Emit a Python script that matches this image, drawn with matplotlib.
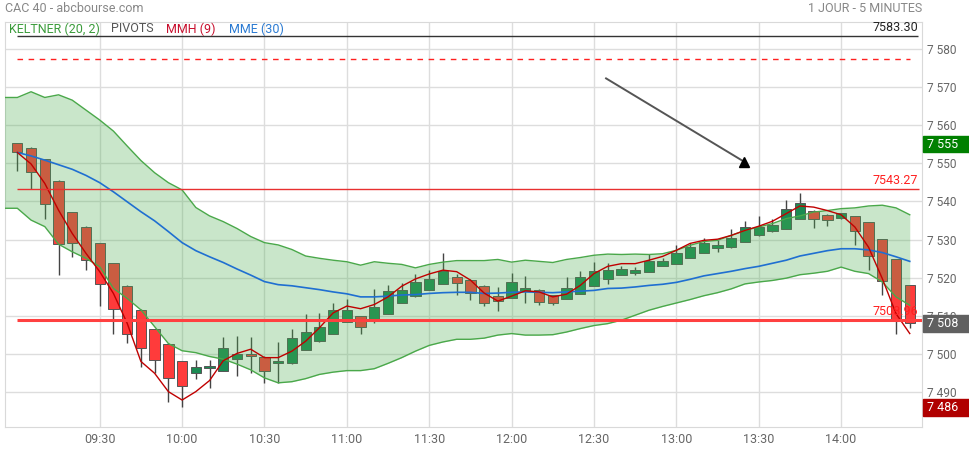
import matplotlib
matplotlib.use("Agg")
from matplotlib import pyplot as plt
from matplotlib.patches import Rectangle
import matplotlib.transforms as mtransforms

plt.rcParams['font.family'] = ['Roboto', 'DejaVu Sans']

# 5-minute candles, 09:00 -> 14:25
opens = [7555.2, 7553.9, 7551.0, 7545.3, 7537.1, 7533.3, 7529.0, 7523.8, 7517.8, 7511.5,
         7506.5, 7502.6, 7498.1, 7495.0, 7496.4, 7495.7, 7498.7, 7500.0, 7499.2, 7497.7,
         7497.7, 7501.2, 7503.5, 7505.3, 7508.5, 7510.0, 7508.7, 7510.5, 7513.5, 7515.2,
         7516.8, 7518.4, 7520.3, 7519.5, 7517.9, 7515.3, 7514.7, 7516.6, 7516.9, 7515.5,
         7514.5, 7515.8, 7517.9, 7519.7, 7520.8, 7521.3, 7521.5, 7523.1, 7523.6, 7525.3,
         7526.6, 7527.8, 7528.0, 7529.4, 7531.1, 7532.2, 7532.8, 7535.4, 7537.6, 7536.5,
         7535.6, 7536.2, 7534.5, 7530.1, 7524.8, 7518.0]
highs = [7555.4, 7554.2, 7551.2, 7545.5, 7537.3, 7533.5, 7529.2, 7524.0, 7518.0, 7511.7,
         7506.7, 7502.8, 7498.3, 7498.5, 7498.5, 7504.5, 7504.8, 7504.5, 7499.4, 7503.3,
         7506.6, 7510.4, 7510.7, 7513.5, 7514.5, 7510.1, 7517.1, 7518.0, 7518.6, 7521.1,
         7522.0, 7526.4, 7520.9, 7519.6, 7518.0, 7517.6, 7521.2, 7520.4, 7517.0, 7515.6,
         7520.1, 7521.7, 7524.1, 7523.8, 7523.0, 7522.7, 7526.3, 7525.3, 7528.5, 7529.2,
         7530.4, 7529.8, 7532.7, 7534.9, 7536.1, 7535.5, 7540.3, 7542.1, 7537.7, 7536.6,
         7536.9, 7536.3, 7534.6, 7530.2, 7524.9, 7518.1]
lows = [7548.0, 7543.2, 7535.5, 7520.7, 7525.5, 7522.0, 7512.7, 7505.2, 7502.8, 7496.7,
        7495.0, 7487.4, 7486.1, 7493.6, 7491.1, 7495.7, 7494.4, 7495.2, 7492.4, 7492.5,
        7497.5, 7501.0, 7503.3, 7505.2, 7508.4, 7505.3, 7508.2, 7510.4, 7513.4, 7515.1,
        7516.7, 7518.3, 7515.5, 7514.2, 7512.6, 7511.3, 7514.6, 7513.4, 7512.9, 7512.9,
        7514.4, 7515.7, 7517.8, 7518.5, 7520.7, 7520.8, 7521.4, 7523.0, 7523.5, 7525.2,
        7526.5, 7526.7, 7527.9, 7529.3, 7531.0, 7532.0, 7532.7, 7535.3, 7533.0, 7533.5,
        7535.5, 7528.5, 7522.0, 7515.5, 7505.4, 7506.8]
closes = [7552.8, 7547.8, 7539.4, 7528.9, 7529.2, 7524.7, 7518.3, 7511.7, 7505.4, 7501.5,
          7498.6, 7493.7, 7491.6, 7496.6, 7496.8, 7501.5, 7500.0, 7499.6, 7495.7, 7498.1,
          7504.3, 7505.9, 7507.2, 7511.6, 7511.6, 7507.2, 7512.4, 7516.6, 7516.9, 7518.8,
          7519.7, 7521.8, 7518.6, 7516.1, 7513.5, 7513.9, 7518.8, 7517.2, 7513.7, 7513.4,
          7517.3, 7520.1, 7521.7, 7522.0, 7522.2, 7522.0, 7524.5, 7524.5, 7526.6, 7528.1,
          7529.2, 7528.5, 7530.5, 7533.4, 7533.4, 7533.7, 7537.9, 7539.7, 7535.4, 7535.1,
          7536.9, 7532.2, 7525.7, 7519.1, 7508.8, 7508.2]

# MMH (9) - Hull moving average
mmh = [7552.8, 7549.8, 7544.7, 7537.7, 7531.6, 7526.4, 7521.6, 7515.9, 7508.1, 7498.1,
       7495.0, 7490.2, 7488.0, 7490.2, 7493.1, 7498.3, 7500.2, 7501.3, 7499.1, 7499.1,
       7500.8, 7503.4, 7506.9, 7510.8, 7512.6, 7511.9, 7513.0, 7515.0, 7517.8, 7519.7,
       7521.0, 7522.0, 7521.6, 7519.4, 7516.0, 7513.9, 7515.2, 7516.6, 7516.3, 7515.0,
       7515.7, 7518.0, 7521.1, 7523.0, 7523.7, 7523.7, 7524.6, 7525.6, 7527.2, 7529.0,
       7529.8, 7530.1, 7531.1, 7532.4, 7533.5, 7534.8, 7536.8, 7538.8, 7538.5, 7537.6,
       7536.5, 7533.3, 7528.0, 7519.8, 7510.6, 7505.4]

# MME (30) - exponential moving average
mme = [7552.8, 7551.9, 7550.8, 7549.6, 7548.4, 7546.8, 7544.9, 7542.5, 7539.9, 7537.3,
       7534.9, 7532.1, 7529.2, 7527.1, 7525.5, 7524.0, 7522.3, 7520.7, 7519.0, 7518.2,
       7517.9, 7517.4, 7516.9, 7516.3, 7515.8, 7515.0, 7515.0, 7515.2, 7515.5, 7515.6,
       7515.9, 7516.1, 7516.2, 7516.2, 7515.9, 7516.0, 7516.2, 7516.3, 7516.2, 7516.1,
       7516.3, 7516.5, 7516.7, 7517.2, 7517.3, 7517.6, 7518.0, 7518.3, 7518.8, 7519.6,
       7520.5, 7521.1, 7521.7, 7522.4, 7523.0, 7523.8, 7524.6, 7525.7, 7526.4, 7527.1,
       7527.6, 7527.6, 7527.3, 7526.6, 7525.5, 7524.3]

# Keltner (20, 2) bands, first value = previous candle (08:55)
kelt_up = [7567.2, 7567.2, 7568.7, 7567.2, 7567.9, 7566.5, 7563.9, 7561.3, 7558.4, 7554.5,
           7550.7, 7547.5, 7544.9, 7543.0, 7538.4, 7536.2, 7534.7, 7532.9, 7530.8, 7529.2,
           7528.6, 7527.4, 7525.7, 7525.1, 7524.6, 7524.2, 7523.3, 7524.2, 7523.8, 7523.5,
           7522.6, 7523.5, 7524.1, 7524.5, 7524.5, 7524.5, 7524.8, 7524.1, 7524.6, 7524.3,
           7524.0, 7524.8, 7525.3, 7525.9, 7526.2, 7526.1, 7526.2, 7526.1, 7526.3, 7527.2,
           7528.5, 7529.5, 7529.8, 7531.1, 7532.4, 7533.3, 7534.2, 7535.5, 7536.2, 7537.2,
           7537.6, 7538.1, 7538.3, 7538.8, 7539.0, 7538.3, 7536.5]
kelt_lo = [7538.2, 7538.2, 7535.1, 7533.4, 7528.8, 7526.8, 7525.1, 7522.9, 7517.2, 7514.6,
           7511.6, 7507.2, 7502.8, 7500.9, 7500.4, 7499.4, 7498.7, 7497.4, 7495.9, 7493.8,
           7492.5, 7492.8, 7493.6, 7494.7, 7495.3, 7495.7, 7495.7, 7496.2, 7497.6, 7499.1,
           7500.8, 7502.3, 7503.2, 7503.9, 7503.9, 7504.2, 7505.0, 7505.4, 7505.0, 7505.0,
           7505.1, 7505.8, 7506.7, 7507.5, 7508.0, 7508.9, 7510.2, 7511.5, 7512.5, 7513.4,
           7514.3, 7515.3, 7516.1, 7517.1, 7518.4, 7518.9, 7519.3, 7519.9, 7520.8, 7521.2,
           7521.7, 7522.8, 7521.7, 7521.1, 7518.9, 7515.0, 7512.8]

pivots = [7583.30, 7543.27, 7508.96]
ref_dashed = 7577.4
day_high = 7555
last_price = 7508
day_low = 7486

tick_pos = [6, 12, 18, 24, 30, 36, 42, 48, 54, 60]
tick_labels = ["09:30", "10:00", "10:30", "11:00", "11:30", "12:00", "12:30", "13:00", "13:30", "14:00"]
y_ticks = [7490, 7500, 7510, 7520, 7530, 7540, 7550, 7560, 7570, 7580]

# drawn trend arrow (candle index, price)
arrow_x = [42.88, 52.93]
arrow_y = [7572.2, 7550.4]

n = len(closes)
xs = list(range(n))
xs_band = list(range(-1, n))

fig = plt.figure(figsize=(9.7, 4.5), dpi=100)
ax = fig.add_axes([4.7 / 970, 1 - 427.3 / 450, (921.7 - 4.7) / 970, (427.3 - 22) / 450])
ax.set_xlim(-0.92, 65.87)
ax.set_ylim(7480.86, 7586.96)

ax.set_xticks(tick_pos)
ax.set_xticklabels(tick_labels)
ax.set_yticks(y_ticks)
ax.set_yticklabels([f"{v:,}".replace(",", " ") for v in y_ticks])
ax.yaxis.tick_right()
ax.tick_params(axis='both', length=0, colors='#666666', labelsize=9)
ax.tick_params(axis='x', pad=4)
ax.tick_params(axis='y', pad=3.5, labelsize=8.6)
ax.grid(True, color='#dddddd', linewidth=1)
ax.set_axisbelow(True)
for s in ax.spines.values():
    s.set_color('#d9d9d9')

# candles
for i in xs:
    up = closes[i] >= opens[i]
    col = '#1b8a52' if up else '#ff3b3b'
    ax.vlines(i, lows[i], highs[i], color='#444444', linewidth=1, zorder=2)
    lo = min(opens[i], closes[i])
    h = max(abs(closes[i] - opens[i]), 0.15)
    ax.bar(i, h, bottom=lo, width=0.75, color=col, edgecolor='#555555', linewidth=0.7, zorder=2.5)

# keltner band
ax.fill_between(xs_band, kelt_lo, kelt_up, color='#4caf50', alpha=0.3, linewidth=0, zorder=3)
ax.plot(xs_band, kelt_up, color='#4aa84a', linewidth=1, zorder=4)
ax.plot(xs_band, kelt_lo, color='#4aa84a', linewidth=1, zorder=4)

ax.plot(xs, mme, color='#1f6fd1', linewidth=1.2, zorder=5)
ax.plot(xs, mmh, color='#c00000', linewidth=1, zorder=5)

# pivots
ax.hlines(pivots[0], 0, 65.6, color='#333333', linewidth=1, zorder=5)
ax.hlines(pivots[1], 0, 65.7, color='#e83030', linewidth=1, zorder=5)
ax.hlines(pivots[2], 0, 65.9, color='#ff4040', linewidth=2.2, zorder=5)
ax.hlines(ref_dashed, 0, 65, color='#ff2020', linewidth=1, linestyles=(0, (4, 4)), zorder=5)
ax.text(65.6, pivots[0] + 0.6, f"{pivots[0]:.2f}", color='#222222', fontsize=9, ha='right', va='bottom', zorder=6)
ax.text(65.6, pivots[1] + 0.6, f"{pivots[1]:.2f}", color='#ff2020', fontsize=9, ha='right', va='bottom', zorder=6)
ax.text(65.6, pivots[2] + 0.6, f"{pivots[2]:.2f}", color='#ff2020', fontsize=9, ha='right', va='bottom', zorder=6)

# arrow
ax.plot(arrow_x, arrow_y, color='#555555', linewidth=1.4, zorder=6)
ax.plot(arrow_x[1], arrow_y[1], marker='^', markersize=7, color='black', zorder=7)

# price boxes on the right axis
trans = mtransforms.blended_transform_factory(ax.transAxes, ax.transData)
box_w = (970 - 922.7) / (921.7 - 4.7)
for val, bg in [(day_high, '#008000'), (last_price, '#606060'), (day_low, '#b00000')]:
    ax.add_patch(Rectangle((1.001, val - 2.2), box_w, 4.4, transform=trans, color=bg,
                           clip_on=False, zorder=8))
    ax.text(1.0055, val, f"{val:,}".replace(",", " "), transform=trans, color='white',
            fontsize=9, va='center', ha='left', clip_on=False, zorder=9)

# header texts
fig.text(5 / 970, 1 - 9 / 450, "CAC 40 - abcbourse.com", color='#888888', fontsize=9, va='center', ha='left')
fig.text(922 / 970, 1 - 9 / 450, "1 JOUR - 5 MINUTES", color='#888888', fontsize=9, va='center', ha='right')

legend = [("KELTNER (20, 2)", '#3c9c3c', 9.3), ("PIVOTS", '#555555', 110.7),
          ("MMH (9)", '#c8102e', 166), ("MME (30)", '#2a7ad2', 228.7)]
for txt, c, px in legend:
    fig.text(px / 970, 1 - 29 / 450, txt, color=c, fontsize=9, va='center', ha='left')

fig.savefig("out.png", dpi=100)
